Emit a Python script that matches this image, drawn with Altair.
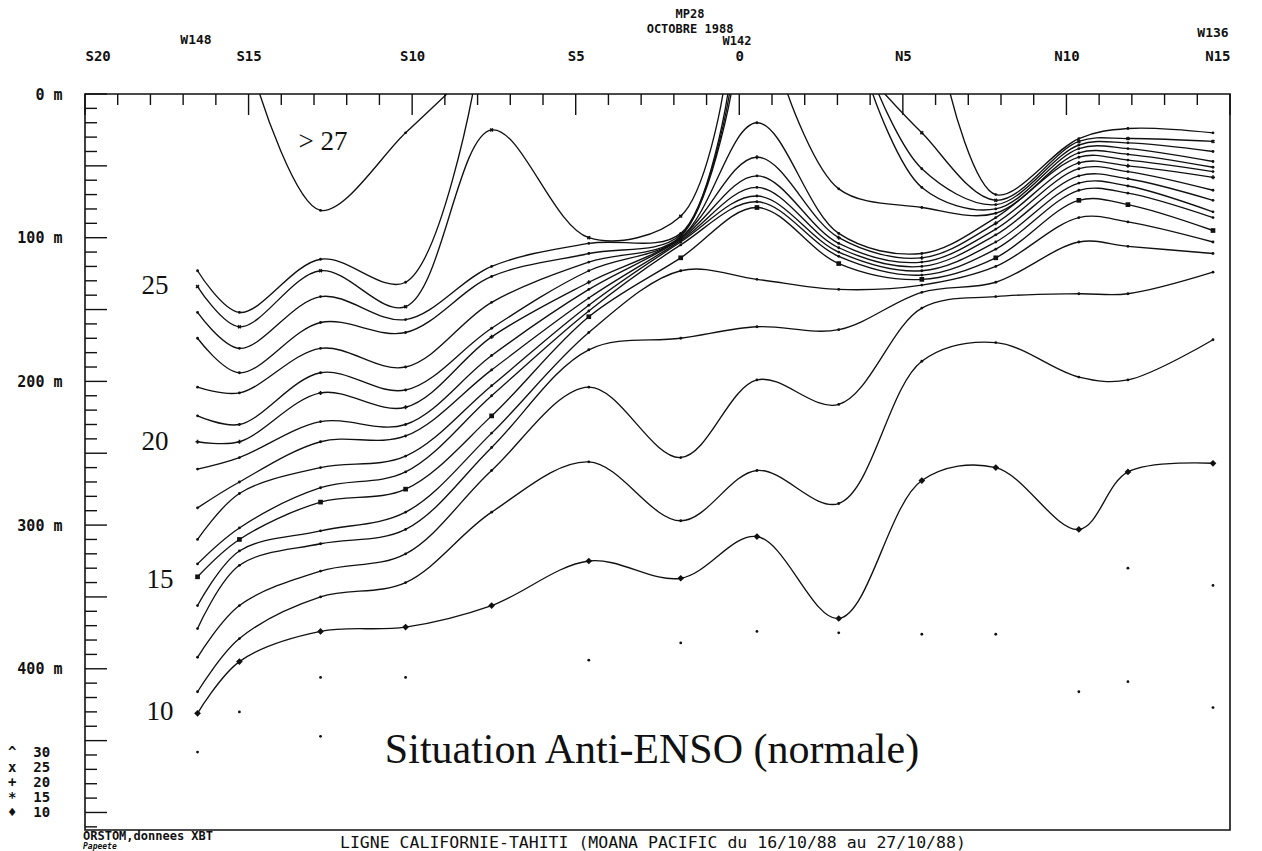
import altair as alt
import pandas as pd

# ---------------- data (latitude: S negative, depth in m) ----------------
ST = [-16.56, -15.28, -12.80, -10.20, -7.57, -4.60, -1.79, 0.54, 3.04, 5.58, 7.84, 10.38, 11.88, 14.48]

T10 = [431, 395, 374, 371, 356, 325, 337, 308, 365, 269, 260, 303, 263, 257]
T11 = [416, 379, 350, 340, 291, 256, 297, 262, 285, 186, 173, 197, 199, 171]
T12 = [392, 356, 332, 320, 262, 204, 253, 199, 216, 149, 141, 139, 139, 124]
T13 = [372, 328, 313, 303, 246, 178, 170, 162, 164, 138, 131, 103, 106, 111]
T14 = [356, 318, 304, 291, 236, 166, 123, 129, 136, 133, 120, 86, 89, 103]
T15 = [336, 310, 284, 275, 224, 155, 114, 79, 118, 129, 114, 74, 77, 95]
T16 = [327, 302, 274, 263, 210, 151, 105, 75, 113, 126, 108, 67, 69, 86]
T17 = [310, 278, 260, 252, 203, 147, 103, 71, 110, 123, 103, 62, 64, 82]
T18 = [288, 270, 242, 238, 192, 142, 102, 65, 107, 120, 98, 57, 59, 74]
T19 = [261, 253, 228, 230, 182, 136, 101, 57, 104, 117, 94, 52, 54, 67]
T20 = [242, 242, 208, 218, 169, 131, 100, 44, 100, 114, 90, 48, 50, 58]
T21 = [224, 230, 194, 206, 163, 123, 100, 20, 97, 111, 86, 44, 46, 54]

# west branches (stations S1..S7 then surface outcrop)
T22W_LAT = ST[:7] + [-0.25]
T22W = [204, 208, 177, 190, 145, 117, 99, 0]
T23W_LAT = ST[:7] + [-0.30]
T23W = [170, 194, 159, 166, 127, 111, 98, 0]
T24W_LAT = ST[:7] + [-0.35]
T24W = [152, 177, 141, 157, 120, 104, 97, 0]
T25W_LAT = ST[:7] + [-0.50]
T25W = [134, 162, 123, 148, 25, 100, 85, 0]
T26_LAT = ST[:4] + [-8.15]
T26 = [123, 152, 115, 131, 0]
T27_LAT = [-14.66, -12.80, -10.20, -8.94]
T27 = [0, 81, 27, 0]

# east branches (surface outcrop then stations)
T22E_LAT = [1.48] + ST[8:]
T22E = [0, 66, 79, 83, 41, 42, 51]
T23E_LAT = [4.08] + ST[9:]
T23E = [0, 65, 80, 38, 38, 47]
T24E_LAT = [4.26] + ST[9:]
T24E = [0, 52, 77, 35.5, 34, 40]
T25E_LAT = [4.45] + ST[9:]
T25E = [0, 27, 74, 33, 31, 33]
T26E_LAT = [6.45] + ST[10:]
T26E = [0, 70, 31, 24, 27]

# isolated XBT points below the deepest isotherm
DOT_LAT = [-16.56, -15.28, -12.80, -12.80, -10.20, -4.60, -1.79, 0.54, 3.04, 5.58, 7.84, 10.38, 11.88, 11.88, 14.48, 14.48]
DOT_DEP = [458, 430, 406, 447, 406, 394, 382, 374, 375, 376, 376, 416, 330, 409, 342, 427]

SEGMENTS = [
    ("10", 10, ST, T10), ("11", 11, ST, T11), ("12", 12, ST, T12), ("13", 13, ST, T13),
    ("14", 14, ST, T14), ("15", 15, ST, T15), ("16", 16, ST, T16), ("17", 17, ST, T17),
    ("18", 18, ST, T18), ("19", 19, ST, T19), ("20", 20, ST, T20), ("21", 21, ST, T21),
    ("22w", 22, T22W_LAT, T22W), ("23w", 23, T23W_LAT, T23W), ("24w", 24, T24W_LAT, T24W),
    ("25w", 25, T25W_LAT, T25W), ("26", 26, T26_LAT, T26), ("27", 27, T27_LAT, T27),
    ("22e", 22, T22E_LAT, T22E), ("23e", 23, T23E_LAT, T23E), ("24e", 24, T24E_LAT, T24E),
    ("25e", 25, T25E_LAT, T25E), ("26e", 26, T26E_LAT, T26E),
]

rows = []
for name, iso, lats, deps in SEGMENTS:
    for i, (la, de) in enumerate(zip(lats, deps)):
        kind = "dot"
        if iso == 10:
            kind = "diamond"
        elif iso == 15:
            kind = "square"
        elif iso == 20:
            kind = "plus"
        elif iso == 25:
            kind = "x"
        rows.append(dict(seg=name, iso=iso, lat=la, depth=de, o=i,
                         station=(la in ST), kind=kind))
df = pd.DataFrame(rows)
st_df = df[df["station"]]
dots_df = pd.DataFrame({"lat": DOT_LAT, "depth": DOT_DEP})

MAJ_LAT = [-20, -15, -10, -5, 0, 5, 10, 15]
MIN_LAT = [v for v in range(-20, 16) if v % 5 != 0]
MAJ_DEP = list(range(0, 511, 50))
MIN_DEP = [v for v in range(0, 511, 10) if v % 50 != 0]

# ---------------- chart ----------------
W, H = 1145, 736
XS = alt.Scale(domain=[-20, 15], nice=False, zero=False)
YS = alt.Scale(domain=[0, 512.2], reverse=True, nice=False, zero=False)
PIX = "DejaVu Sans Mono"
SERIF = "Liberation Serif"
INK = "#111111"
NB = "\u00a0"

xaxis = alt.Axis(orient="top", values=MAJ_LAT, ticks=False, domain=False, grid=False,
                 labelExpr="datum.value < 0 ? 'S' + abs(datum.value) : (datum.value > 0 ? 'N' + datum.value : '0')",
                 labelFont=PIX, labelFontSize=14, labelFontWeight="bold", labelColor=INK,
                 labelPadding=31, labelFlush=True, title=None)
yaxis = alt.Axis(orient="left", values=[0, 100, 200, 300, 400], ticks=False, domain=False, grid=False,
                 labelExpr="datum.value + ' m'", labelFont=PIX, labelFontSize=15,
                 labelFontWeight="bold", labelColor=INK, labelPadding=23, title=None)

lines = alt.Chart(df).mark_line(interpolate="catmull-rom", color=INK, strokeWidth=1.35, clip=True).encode(
    x=alt.X("lat:Q", scale=XS, axis=xaxis),
    y=alt.Y("depth:Q", scale=YS, axis=yaxis),
    detail="seg:N",
    order="o:Q",
)

def pts(kind, shape, size, angle=0):
    d = st_df[st_df["kind"] == kind]
    return alt.Chart(d).mark_point(shape=shape, size=size, filled=True, color=INK, opacity=1,
                                   angle=angle, clip=True).encode(
        x=alt.X("lat:Q", scale=XS), y=alt.Y("depth:Q", scale=YS))

p_dot = pts("dot", "circle", 8)
p_dia = pts("diamond", "diamond", 45)
p_sq = pts("square", "square", 22)
p_plus = pts("plus", "cross", 16)
p_x = pts("x", "cross", 16, 45)

iso_dots = alt.Chart(dots_df).mark_point(shape="circle", size=8, filled=True, color=INK, opacity=1).encode(
    x=alt.X("lat:Q", scale=XS), y=alt.Y("depth:Q", scale=YS))

tick_top_maj = alt.Chart(pd.DataFrame({"lat": MAJ_LAT})).mark_rule(color=INK, strokeWidth=1.4).encode(
    x=alt.X("lat:Q", scale=XS), y=alt.value(0), y2=alt.value(21))
tick_top_min = alt.Chart(pd.DataFrame({"lat": MIN_LAT})).mark_rule(color=INK, strokeWidth=1.4).encode(
    x=alt.X("lat:Q", scale=XS), y=alt.value(0), y2=alt.value(11))
tick_left_maj = alt.Chart(pd.DataFrame({"depth": MAJ_DEP})).mark_rule(color=INK, strokeWidth=1.4).encode(
    y=alt.Y("depth:Q", scale=YS), x=alt.value(0), x2=alt.value(22))
tick_left_min = alt.Chart(pd.DataFrame({"depth": MIN_DEP})).mark_rule(color=INK, strokeWidth=1.4).encode(
    y=alt.Y("depth:Q", scale=YS), x=alt.value(0), x2=alt.value(12))

ONE = pd.DataFrame({"a": [0]})

def label(text, x, y, font=PIX, size=13, weight="bold", align="center", style="normal", baseline="middle"):
    return alt.Chart(ONE).mark_text(text=text, font=font, fontSize=size, fontWeight=weight,
                                    fontStyle=style, align=align, baseline=baseline, color=INK).encode(
        x=alt.value(x), y=alt.value(y))

texts = [
    label("MP28", 605, -80, size=12),
    label("OCTOBRE 1988", 605, -65, size=12),
    label("W148", 111, -54),
    label("W142", 652, -53, size=12),
    label("W136", 1128, -61),
    label("> 27", 238, 48, font=SERIF, size=27, weight="normal"),
    label("25", 70, 192, font=SERIF, size=27, weight="normal"),
    label("20", 70, 348, font=SERIF, size=27, weight="normal"),
    label("15", 75, 486, font=SERIF, size=27, weight="normal"),
    label("10", 75, 618, font=SERIF, size=27, weight="normal"),
    label("Situation Anti-ENSO (normale)", 567, 656, font=SERIF, size=42, weight="normal"),
    label("^" + NB + NB + "30", -77, 659, align="left", size=14),
    label("x" + NB + NB + "25", -77, 674, align="left", size=14),
    label("+" + NB + NB + "20", -77, 689, align="left", size=14),
    label("*" + NB + NB + "15", -77, 704, align="left", size=14),
    label("\u2666" + NB + NB + "10", -77, 719, align="left", size=14),
    label("ORSTOM,donnees XBT", -2, 742, align="left", size=12),
    label("Papeete", -2, 757, align="left", size=8, style="italic", baseline="bottom"),
    label("LIGNE CALIFORNIE-TAHITI (MOANA PACIFIC du 16/10/88 au 27/10/88)", 255, 749,
          align="left", size=16.5, weight="normal"),
]

chart = alt.layer(
    tick_top_maj, tick_top_min, tick_left_maj, tick_left_min,
    lines, p_dot, p_dia, p_sq, p_plus, p_x, iso_dots, *texts
).properties(
    width=W, height=H,
    autosize=alt.AutoSizeParams(type="none"),
    padding={"left": 85, "top": 94, "right": 32, "bottom": 21},
    background="white",
).configure_view(stroke=INK, strokeWidth=1.6)

chart.save("out.html", embed_options={"renderer": "svg", "actions": False})
